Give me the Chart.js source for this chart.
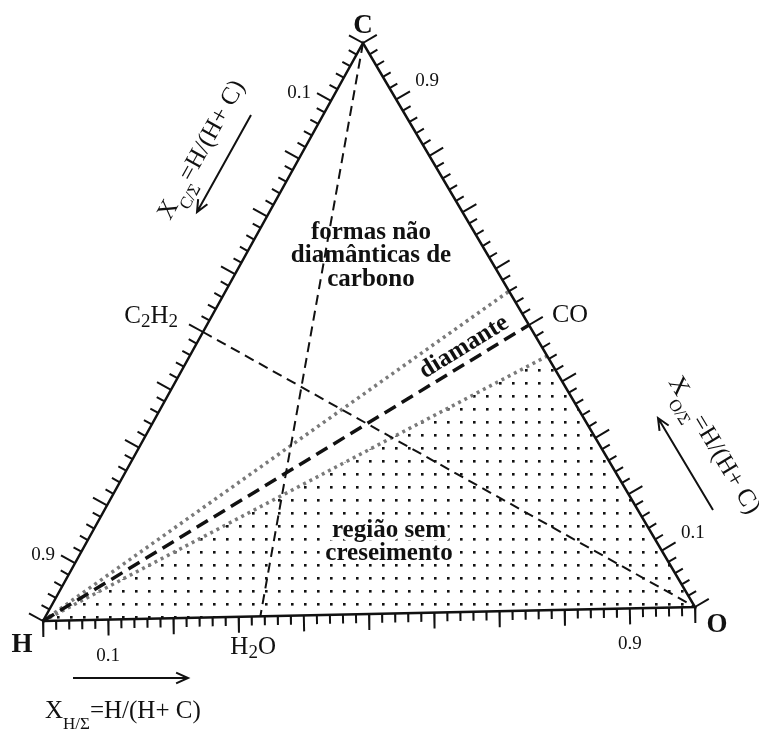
<!DOCTYPE html>
<html>
<head>
<meta charset="utf-8">
<script src="https://cdn.jsdelivr.net/npm/chart.js@4.4.0/dist/chart.umd.min.js"></script>
<style>
  html, body { margin: 0; padding: 0; background: #fff; }
  #wrap { width: 759px; height: 731px; position: relative; }
</style>
</head>
<body>
<div id="wrap"><canvas id="choChart"></canvas></div>
<script>
// compositions are [H, C, O] fractions
const vertexNames = ['H', 'C', 'O'];
const vertexComp = [[1, 0, 0], [0, 1, 0], [0, 0, 1]];
const compoundNames = ['C2H2', 'CO', 'H2O'];
const compoundComp = [[0.5, 0.5, 0], [0, 0.5, 0.5], [2 / 3, 0, 1 / 3]];
// limits of the diamond domain (from H to the C-O side)
const upperLimitEnd = [0, 0.56, 0.44];
const lowerLimitEnd = [0, 0.445, 0.555];
const tickStep = 0.02;
const majorStep = 0.1;
const tickLabelValues = [0.1, 0.9];
const tickLabels = ['0.1', '0.9'];

// where the corners sit on the page (scan is slightly tilted)
const corner = { H: [43, 621], C: [363, 43], O: [695, 607] };
const SERIF = '"Liberation Serif", "Times New Roman", serif';

function toXY(c) {
  return {
    x: c[0] * corner.H[0] + c[1] * corner.C[0] + c[2] * corner.O[0],
    y: c[0] * corner.H[1] + c[1] * corner.C[1] + c[2] * corner.O[1]
  };
}
const H = toXY(vertexComp[0]), C = toXY(vertexComp[1]), O = toXY(vertexComp[2]);
const C2H2 = toXY(compoundComp[0]), CO = toXY(compoundComp[1]), H2O = toXY(compoundComp[2]);
const G = { x: (H.x + C.x + O.x) / 3, y: (H.y + C.y + O.y) / 3 };

// bottom: H -> O, left: C -> H, right: O -> C
const edges = [[H, O], [C, H], [O, C]];

function normalOf(a, b) {
  const dx = b.x - a.x, dy = b.y - a.y, L = Math.hypot(dx, dy);
  let n = { x: -dy / L, y: dx / L };
  const m = { x: (a.x + b.x) / 2, y: (a.y + b.y) / 2 };
  if ((m.x - G.x) * n.x + (m.y - G.y) * n.y < 0) n = { x: -n.x, y: -n.y };
  return n;
}

const tickPts = [];
edges.forEach(([a, b]) => {
  const n = normalOf(a, b);
  const count = Math.round(1 / tickStep);
  for (let k = 0; k <= count; k++) {
    const v = k * tickStep;
    const major = Math.abs(v / majorStep - Math.round(v / majorStep)) < 1e-6;
    const len = major ? 16 : 9;
    const p = { x: a.x + (b.x - a.x) * v, y: a.y + (b.y - a.y) * v };
    tickPts.push(p, { x: p.x + n.x * len, y: p.y + n.y * len }, { x: null, y: null });
  }
});

// dot screen for the no-growth region
const tile = document.createElement('canvas');
tile.width = 13; tile.height = 13;
const tctx = tile.getContext('2d');
tctx.fillStyle = '#111';
tctx.fillRect(5, 5, 2.6, 2.6);
const dots = tctx.createPattern(tile, 'repeat');

const upperEnd = toXY(upperLimitEnd), lowerEnd = toXY(lowerLimitEnd);

const line = (data, extra) => Object.assign({
  data: data, borderColor: '#111', borderWidth: 2, fill: false, pointRadius: 0
}, extra);

const datasets = [
  line([H, C, O, H], { borderWidth: 2.5, order: 1 }),
  line(tickPts, { borderWidth: 2, order: 1 }),
  line([C, H2O], { borderDash: [10, 6], borderWidth: 2, order: 2 }),
  line([C2H2, O], { borderDash: [10, 6], borderWidth: 2, order: 2 }),
  line([H, CO], { borderDash: [13, 7], borderWidth: 3.5, order: 2 }),
  line([H, upperEnd], { borderDash: [3, 4], borderWidth: 3.5, borderColor: '#7a7a7a', order: 3 }),
  line([H, lowerEnd], { borderDash: [3, 4], borderWidth: 3.5, borderColor: '#7a7a7a', order: 3 }),
  line([H, lowerEnd, O, H], { borderWidth: 0, borderColor: 'rgba(0,0,0,0)', backgroundColor: dots, fill: 'shape', order: 9 })
];

function rich(ctx, parts, x, y, rot, align) {
  ctx.save();
  ctx.translate(x, y);
  ctx.rotate((rot || 0) * Math.PI / 180);
  ctx.textBaseline = 'alphabetic';
  ctx.textAlign = 'left';
  let w = 0;
  parts.forEach(p => { ctx.font = (p.b ? 'bold ' : '') + p.s + 'px ' + SERIF; w += ctx.measureText(p.t).width; });
  let cx = align === 'center' ? -w / 2 : align === 'right' ? -w : 0;
  parts.forEach(p => {
    ctx.font = (p.b ? 'bold ' : '') + p.s + 'px ' + SERIF;
    ctx.fillText(p.t, cx, p.dy || 0);
    cx += ctx.measureText(p.t).width;
  });
  ctx.restore();
}

function arrow(ctx, x1, y1, x2, y2) {
  const a = Math.atan2(y2 - y1, x2 - x1), hl = 13, ha = 0.42;
  ctx.beginPath();
  ctx.moveTo(x1, y1); ctx.lineTo(x2, y2);
  ctx.moveTo(x2 - hl * Math.cos(a - ha), y2 - hl * Math.sin(a - ha));
  ctx.lineTo(x2, y2);
  ctx.lineTo(x2 - hl * Math.cos(a + ha), y2 - hl * Math.sin(a + ha));
  ctx.stroke();
}

// bold label with a white halo so the dot screen stays clear of it
function haloText(ctx, t, x, y) {
  ctx.save();
  ctx.strokeStyle = '#fff';
  ctx.lineWidth = 7;
  ctx.lineJoin = 'round';
  ctx.strokeText(t, x, y);
  ctx.restore();
  ctx.fillText(t, x, y);
}

const sub = (t) => ({ t: t, s: 17, dy: 11 });
const big = (t) => ({ t: t, s: 25 });

const textPlugin = {
  id: 'choText',
  afterDatasetsDraw(chart) {
    const ctx = chart.ctx, sx = chart.scales.x, sy = chart.scales.y;
    const px = v => sx.getPixelForValue(v), py = v => sy.getPixelForValue(v);
    ctx.save();
    ctx.fillStyle = '#111';
    ctx.strokeStyle = '#111';
    ctx.lineWidth = 2;

    // corner letters
    rich(ctx, [{ t: vertexNames[0], s: 27, b: true }], px(H.x - 21), py(H.y + 31), 0, 'center');
    rich(ctx, [{ t: vertexNames[1], s: 27, b: true }], px(C.x), py(C.y - 10), 0, 'center');
    rich(ctx, [{ t: vertexNames[2], s: 27, b: true }], px(O.x + 22), py(O.y + 25), 0, 'center');

    // tick labels
    const off = [[0, 36], [-32, -8], [31, -18]];
    ctx.font = '19px ' + SERIF;
    ctx.textAlign = 'center';
    ctx.textBaseline = 'middle';
    edges.forEach(([a, b], i) => {
      tickLabelValues.forEach((v, j) => {
        const x = a.x + (b.x - a.x) * v, y = a.y + (b.y - a.y) * v;
        ctx.fillText(tickLabels[j], px(x + off[i][0]), py(y + off[i][1]));
      });
    });

    // compounds
    rich(ctx, [big('C'), { t: '2', s: 19, dy: 4 }, big('H'), { t: '2', s: 19, dy: 4 }], px(C2H2.x - 25), py(C2H2.y - 9), 0, 'right');
    rich(ctx, [{ t: compoundNames[1], s: 26 }], px(CO.x + 23), py(CO.y - 3), 0, 'left');
    rich(ctx, [big('H'), { t: '2', s: 19, dy: 4 }, big('O')], px(H2O.x - 30), py(H2O.y + 38), 0, 'left');

    // regions
    ctx.textAlign = 'center';
    ctx.textBaseline = 'alphabetic';
    ctx.font = 'bold 25px ' + SERIF;
    ctx.fillText('formas não', px(371), py(239));
    ctx.fillText('diamânticas de', px(371), py(262));
    ctx.fillText('carbono', px(371), py(286));
    haloText(ctx, 'região sem', px(389), py(537));
    haloText(ctx, 'creseimento', px(389), py(560));
    ctx.save();
    ctx.translate(px(464), py(347));
    ctx.rotate(-31.5 * Math.PI / 180);
    ctx.textBaseline = 'middle';
    ctx.fillText('diamante', 0, 0);
    ctx.restore();

    // axis titles with arrows
    rich(ctx, [big('X'), sub('H/Σ'), big('=H/(H+ C)')], px(45), py(718), 0, 'left');
    arrow(ctx, px(73), py(678), px(188), py(678));
    rich(ctx, [big('X'), sub('C/Σ'), big('=H/(H+ C)')], px(170), py(221), -61, 'left');
    arrow(ctx, px(251), py(115), px(197), py(212));
    rich(ctx, [big('X'), sub('O/Σ'), big('=H/(H+ C)')], px(668), py(382), 59, 'left');
    arrow(ctx, px(713), py(510), px(658), py(418));
    ctx.restore();
  }
};

new Chart(document.getElementById('choChart'), {
  type: 'line',
  data: { datasets: datasets },
  options: {
    responsive: true,
    maintainAspectRatio: false,
    animation: false,
    events: [],
    layout: { padding: 0 },
    plugins: { legend: { display: false }, tooltip: { enabled: false } },
    elements: { line: { tension: 0 }, point: { radius: 0 } },
    scales: {
      x: { type: 'linear', min: 0, max: 759, display: false },
      y: { type: 'linear', min: 0, max: 731, reverse: true, display: false }
    }
  },
  plugins: [textPlugin]
});
</script>
</body>
</html>
